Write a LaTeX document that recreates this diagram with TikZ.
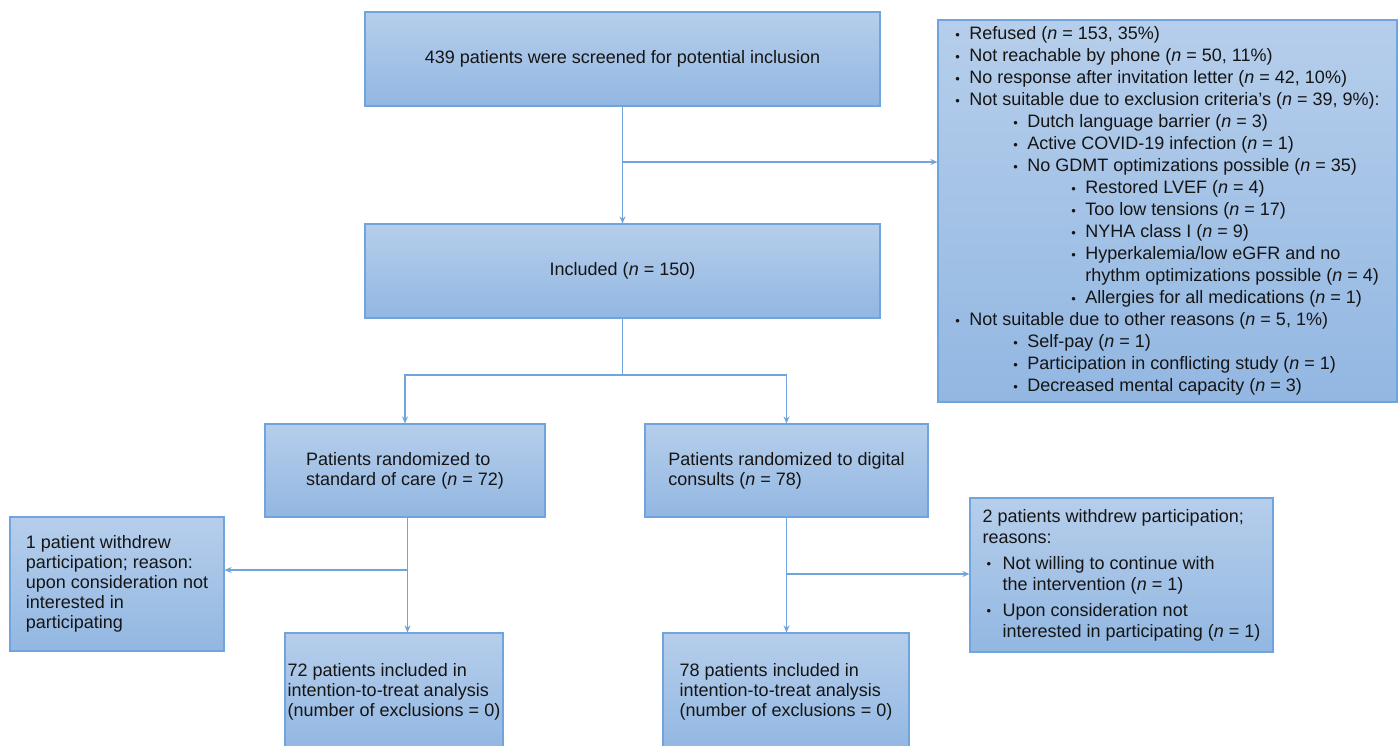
\documentclass[tikz,border=0pt]{standalone}
\usepackage{fontspec}
\setmainfont{Liberation Sans}
\usetikzlibrary{arrows.meta}
\definecolor{boxtop}{HTML}{B6CEEB}
\definecolor{boxbot}{HTML}{92B7E2}
\definecolor{boxline}{HTML}{6FA5DC}
\definecolor{arrowc}{HTML}{6FA5DC}
\definecolor{txt}{HTML}{151515}
\newcommand{\bl}{\raisebox{0.5pt}{\fontsize{13}{13}\selectfont •}}
\newcommand{\ione}{\makebox[14pt][l]{\bl}}
\newcommand{\itwo}{\hspace*{58pt}\makebox[14pt][l]{\bl}}
\newcommand{\ithree}{\hspace*{116pt}\makebox[14pt][l]{\bl}}
\newcommand{\nn}{\textit{n}}
\tikzset{
 flowbox/.style={draw=boxline, line width=1.2pt, top color=boxtop, bottom color=boxbot,
   text=txt, align=left, inner sep=0pt, font=\fontsize{18}{20}\selectfont},
 link/.style={draw=arrowc, line width=1.3pt, -{Stealth[length=7pt,width=6pt]}},
 joint/.style={draw=arrowc, line width=1.3pt}
}
\begin{document}
\begin{tikzpicture}[x=1pt,y=-1pt]
\useasboundingbox (0,0) rectangle (1400,745);
\fill[white] (0,0) rectangle (1400,745);

\node[flowbox, minimum width=515pt, minimum height=94pt] (A) at (622.5,59)
  {439 patients were screened for potential inclusion};
\node[flowbox, minimum width=515pt, minimum height=94pt] (B) at (622.5,271)
  {Included (\nn{} = 150)};
\node[flowbox, minimum width=459pt, minimum height=382pt, font=\fontsize{18}{22}\selectfont] (E) at (1167.5,211)
  {\ione Refused (\nn{} = 153, 35\%)\\
   \ione Not reachable by phone (\nn{} = 50, 11\%)\\
   \ione No response after invitation letter (\nn{} = 42, 10\%)\\
   \ione Not suitable due to exclusion criteria’s (\nn{} = 39, 9\%):\\
   \itwo Dutch language barrier (\nn{} = 3)\\
   \itwo Active COVID-19 infection (\nn{} = 1)\\
   \itwo No GDMT optimizations possible (\nn{} = 35)\\
   \ithree Restored LVEF (\nn{} = 4)\\
   \ithree Too low tensions (\nn{} = 17)\\
   \ithree NYHA class I (\nn{} = 9)\\
   \ithree Hyperkalemia/low eGFR and no\\
   \hspace*{130pt}rhythm optimizations possible (\nn{} = 4)\\
   \ithree Allergies for all medications (\nn{} = 1)\\
   \ione Not suitable due to other reasons (\nn{} = 5, 1\%)\\
   \itwo Self-pay (\nn{} = 1)\\
   \itwo Participation in conflicting study (\nn{} = 1)\\
   \itwo Decreased mental capacity (\nn{} = 3)};
\node[flowbox, minimum width=280pt, minimum height=93pt] (S) at (405,470.5)
  {Patients randomized to\\standard of care (\nn{} = 72)};
\node[flowbox, minimum width=283pt, minimum height=93pt] (D) at (786.5,470.5)
  {Patients randomized to digital\\consults (\nn{} = 78)};
\node[flowbox, minimum width=214pt, minimum height=134pt] (W1) at (117,584)
  {1 patient withdrew\\participation; reason:\\upon consideration not\\interested in\\participating};
\node[flowbox, minimum width=303pt, minimum height=154pt, font=\fontsize{18}{21}\selectfont] (W2) at (1121.5,575)
  {2 patients withdrew participation;\\reasons:\\[5pt]
   \hspace*{4pt}\makebox[16pt][l]{\bl}Not willing to continue with\\
   \hspace*{20pt}the intervention (\nn{} = 1)\\[5pt]
   \hspace*{4pt}\makebox[16pt][l]{\bl}Upon consideration not\\
   \hspace*{20pt}interested in participating (\nn{} = 1)};
\node[flowbox, minimum width=218pt, minimum height=118pt] (L) at (394,692)
  {72 patients included in\\intention-to-treat analysis\\(number of exclusions = 0)};
\node[flowbox, minimum width=246pt, minimum height=118pt] (R) at (786,692)
  {78 patients included in\\intention-to-treat analysis\\(number of exclusions = 0)};

% connectors
\draw[link] (A.south) -- (B.north);
\coordinate (j1) at (622.5,162);
\draw[link] (j1) -- (j1 -| E.west);
\coordinate (j2) at (622.5,375);
\draw[joint] (B.south) -- (j2);
\draw[link] (j2) -| (S.north);
\draw[link] (j2) -| (D.north);
\coordinate (s1) at (407.5,517);
\coordinate (j3) at (407.5,570);
\draw[link] (s1) -- (s1 |- L.north);
\draw[link] (j3) -- (j3 -| W1.east);
\coordinate (j4) at (786.5,574);
\draw[link] (D.south) -- (D.south |- R.north);
\draw[link] (j4) -- (j4 -| W2.west);
\end{tikzpicture}
\end{document}
